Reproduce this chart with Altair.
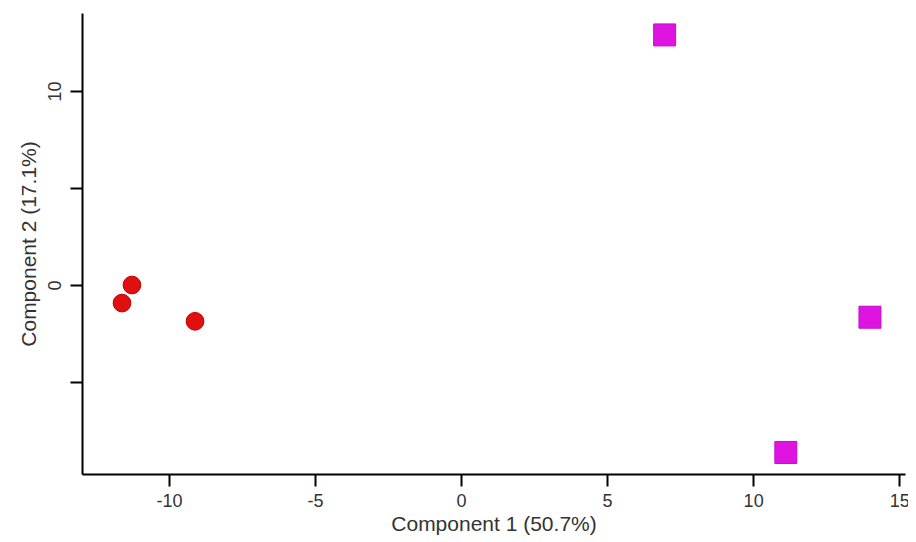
import altair as alt
import pandas as pd

group_a_x = [-11.27, -11.61, -9.11]
group_a_y = [0.0, -0.93, -1.87]
group_b_x = [6.97, 14.0, 11.12]
group_b_y = [12.89, -1.66, -8.63]

df = pd.DataFrame({
    "x": group_a_x + group_b_x,
    "y": group_a_y + group_b_y,
    "group": ["A"] * len(group_a_x) + ["B"] * len(group_b_x),
})

x_ticks = [-10, -5, 0, 5, 10, 15]
y_ticks = [-5, 0, 5, 10]
y_labelled = [0, 10]

base = alt.Chart(df)

xenc = alt.X("x:Q", title="Component 1 (50.7%)",
             scale=alt.Scale(domain=[-12.98, 15.2], nice=False, zero=False),
             axis=alt.Axis(values=x_ticks, grid=False, tickSize=12, labelPadding=6,
                           labelExpr="'' + datum.value", titlePadding=3))
yenc = alt.Y("y:Q", title="Component 2 (17.1%)",
             scale=alt.Scale(domain=[-9.74, 14.02], nice=False, zero=False),
             axis=alt.Axis(values=y_ticks, grid=False, tickSize=12, labelAngle=270,
                           labelAlign="center", labelBaseline="bottom", labelPadding=6,
                           labelExpr="datum.value == %d || datum.value == %d ? '' + datum.value : ''" % tuple(y_labelled),
                           titlePadding=7))

circles = base.transform_filter(alt.datum.group == "A").mark_point(
    shape="circle", filled=True, size=314, color="#e01010", stroke="#c00000",
    strokeWidth=1, opacity=1
).encode(x=xenc, y=yenc)

squares = base.transform_filter(alt.datum.group == "B").mark_point(
    shape="square", filled=True, size=484, color="#e014e0", stroke="#c010c8",
    strokeWidth=1, opacity=1
).encode(x=xenc, y=yenc)

chart = alt.layer(circles, squares).properties(
    width=823, height=461,
    autosize=alt.AutoSizeParams(type="none"),
    padding={"left": 74, "top": 5, "right": 3, "bottom": 68},
).configure_view(stroke=None).configure_axis(
    domainColor="#000000", tickColor="#000000", domainWidth=2, tickWidth=2,
    labelFont="Liberation Sans", titleFont="Liberation Sans",
    labelFontSize=18, titleFontSize=21, labelColor="#333333", titleColor="#333333",
    titleFontWeight="normal"
)

chart.save("out.html", embed_options={"renderer": "svg", "actions": False})
